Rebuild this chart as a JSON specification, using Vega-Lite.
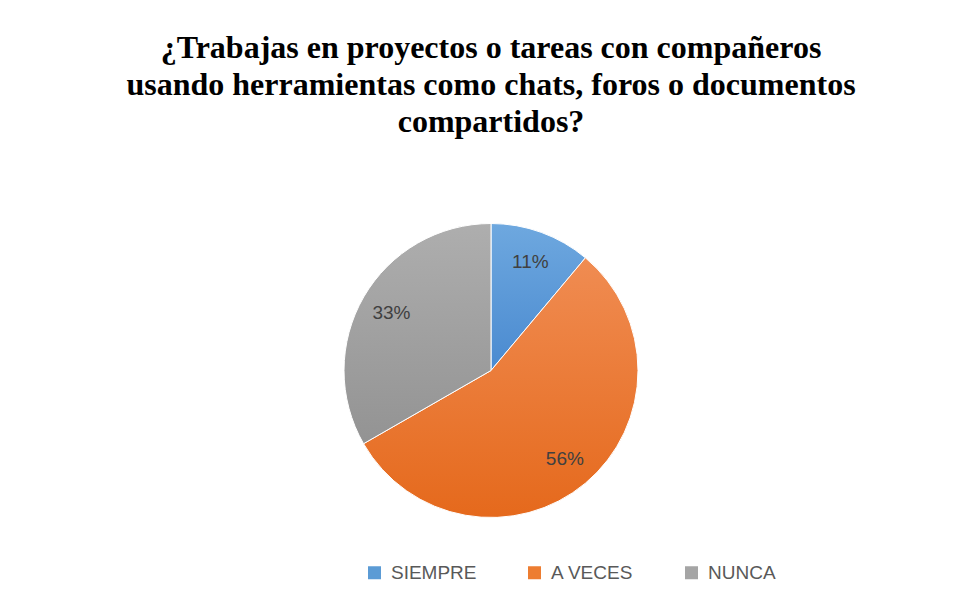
{
  "$schema": "https://vega.github.io/schema/vega-lite/v6.json",
  "autosize": "none",
  "width": 934,
  "height": 461,
  "padding": {"left": 24, "top": 140, "right": 0, "bottom": 0},
  "background": "#ffffff",
  "view": {"stroke": null},
  "title": {
    "text": ["¿Trabajas en proyectos o tareas con compañeros", "usando herramientas como chats, foros o documentos", "compartidos?"],
    "font": "Liberation Serif",
    "fontSize": 32,
    "fontWeight": "bold",
    "color": "#000000",
    "anchor": "middle",
    "lineHeight": 37,
    "offset": 1
  },
  "data": {
    "values": [
      {"respuesta": "SIEMPRE", "porcentaje": 0.111, "orden": 1},
      {"respuesta": "A VECES", "porcentaje": 0.556, "orden": 2},
      {"respuesta": "NUNCA", "porcentaje": 0.333, "orden": 3}
    ]
  },
  "encoding": {
    "theta": {"field": "porcentaje", "type": "quantitative", "stack": true},
    "order": {"field": "orden", "type": "quantitative"}
  },
  "layer": [
    {
      "mark": {"type": "arc", "outerRadius": 147, "stroke": "#ffffff", "strokeWidth": 1},
      "encoding": {
        "fill": {
          "condition": [
            {"test": "datum.respuesta == 'SIEMPRE'", "value": {"gradient": "linear", "x1": 0, "y1": 0, "x2": 0, "y2": 1, "stops": [{"offset": 0, "color": "#6EA8DF"}, {"offset": 1, "color": "#4A8AD0"}]}},
            {"test": "datum.respuesta == 'A VECES'", "value": {"gradient": "linear", "x1": 0, "y1": 0, "x2": 0, "y2": 1, "stops": [{"offset": 0, "color": "#F08C52"}, {"offset": 1, "color": "#E5691C"}]}},
            {"test": "datum.respuesta == 'NUNCA'", "value": {"gradient": "linear", "x1": 0, "y1": 0, "x2": 0, "y2": 1, "stops": [{"offset": 0, "color": "#AEAEAE"}, {"offset": 1, "color": "#939393"}]}}
          ],
          "field": "respuesta",
          "type": "nominal",
          "sort": ["SIEMPRE", "A VECES", "NUNCA"],
          "scale": {
            "domain": ["SIEMPRE", "A VECES", "NUNCA"],
            "range": ["#5B9BD5", "#ED7D31", "#A5A5A5"]
          },
          "legend": {
            "orient": "none",
            "legendX": 341,
            "legendY": 423,
            "direction": "horizontal",
            "title": null,
            "symbolType": "square",
            "symbolSize": 169,
            "symbolStrokeWidth": 0,
            "labelFont": "Liberation Sans",
            "labelFontSize": 19,
            "labelColor": "#595959",
            "labelOffset": 7,
            "labelLimit": 0,
            "columnPadding": 48,
            "labelExpr": "datum.label == 'A VECES' ? '\u00a0\u00a0\u00a0A VECES' : datum.label",
            "encode": {
              "labels": {"update": {"fill": {"signal": "datum.value == 'A VECES' ? '#000000' : '#595959'"}}}
            }
          }
        }
      }
    },
    {
      "mark": {"type": "text", "radius": 115, "font": "Liberation Sans", "fontSize": 19, "fill": "#404040", "align": "center", "baseline": "middle"},
      "encoding": {
        "text": {"field": "porcentaje", "type": "quantitative", "format": ".0%"}
      }
    }
  ]
}
